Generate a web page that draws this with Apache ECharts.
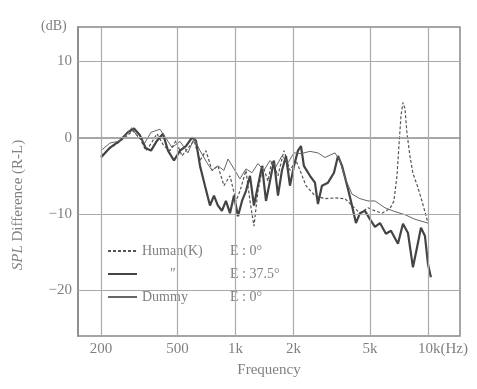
<!DOCTYPE html>
<html>
<head>
<meta charset="utf-8">
<title>SPL Difference (R-L)</title>
<script src="https://cdn.jsdelivr.net/npm/echarts@6/dist/echarts.min.js"></script>
<style>
  html, body { margin: 0; padding: 0; background: #fff; }
  #chart { width: 477px; height: 389px; }
</style>
</head>
<body>
<div id="chart"></div>
<script>
// frequency ticks (Hz) and their labels
var freqTicks = [200, 500, 1000, 2000, 5000, 10000];
var freqLabels = ['200', '500', '1k', '2k', '5k', '10k(Hz)'];
var dbTicks = [-20, -10, 0, 10];

// Human(K), E : 0deg  (dashed)
var humanFreq = [200, 223, 245, 269, 293, 319, 342, 364, 391, 425, 457, 491, 527, 566, 609, 654, 702, 755, 810, 871,
  936, 1006, 1055, 1133, 1189, 1247, 1308, 1389, 1474, 1546, 1662, 1785, 1918, 2061, 2188, 2322, 2586, 2915, 3286, 3703,
  4027, 4432, 4879, 5302, 5766, 6343, 6652, 6900, 7060, 7240, 7410, 7591, 7780, 8058, 8350, 8800, 9300, 10000];
var humanDb = [-2.4, -1.4, -0.7, 0.1, 0.9, -0.1, -1.7, -0.8, 0.5, -1.1, -1.7, -0.4, -2.4, -1.4, -0.4, -3.0, -1.7, -4.3, -3.7, -6.3,
  -5.0, -8.3, -7.0, -4.3, -8.3, -11.6, -7.0, -3.7, -5.7, -3.0, -5.0, -1.7, -4.3, -3.0, -4.6, -6.3, -7.6, -8.0, -7.9, -8.0,
  -8.9, -9.9, -9.2, -9.6, -9.9, -9.3, -8.3, -5.0, -1.1, 2.9, 4.6, 3.8, 0.5, -2.4, -4.7, -6.3, -8.3, -11.2];

// Human(K), E : 37.5deg  (thick)
var human37Freq = [200, 223, 251, 276, 297, 319, 342, 364, 391, 420, 446, 479, 515, 553, 594, 623, 654, 694, 737, 773,
  810, 850, 892, 936, 982, 1030, 1081, 1133, 1189, 1247, 1308, 1373, 1440, 1510, 1584, 1662, 1743, 1829, 1918, 2012,
  2111, 2188, 2266, 2436, 2586, 2680, 2812, 3023, 3247, 3407, 3575, 3838, 4027, 4223, 4432, 4704, 4994, 5302, 5629, 6044,
  6420, 6980, 7410, 7870, 8350, 8800, 9190, 9641, 10000, 10350];
var human37Db = [-2.6, -1.3, -0.4, 0.7, 1.2, 0.3, -1.4, -1.7, -0.4, 0.5, -1.7, -3.0, -1.7, -1.1, 0.0, -0.4, -3.7, -6.3, -8.9, -7.6,
  -8.9, -9.6, -8.3, -9.9, -7.6, -10.3, -8.3, -7.0, -5.0, -8.9, -6.3, -3.7, -8.3, -5.7, -3.0, -7.6, -4.3, -2.4, -6.3, -3.7,
  -1.7, -1.1, -3.7, -5.0, -5.9, -8.7, -6.3, -5.9, -4.6, -2.4, -3.7, -6.7, -8.9, -11.2, -9.9, -9.6, -10.7, -11.7, -11.2, -12.6,
  -12.2, -13.9, -11.3, -12.5, -17.0, -14.2, -11.8, -12.9, -16.6, -18.3];

// Dummy, E : 0deg  (thin)
var dummyFreq = [200, 223, 245, 266, 289, 311, 338, 364, 405, 436, 468, 515, 566, 609, 654, 711, 755, 810, 871, 914,
  982, 1055, 1133, 1218, 1308, 1405, 1510, 1622, 1743, 1873, 2012, 2188, 2436, 2680, 2915, 3286, 3489, 3703, 4027, 4432,
  4879, 5302, 5975, 6735, 7591, 8555, 10000];
var dummyDb = [-1.7, -0.7, -0.5, 0.1, 1.3, 0.1, -0.7, 0.7, 1.1, -0.1, -1.3, -0.5, -2.0, -0.1, -1.7, -3.3, -4.3, -3.7, -4.3, -2.8,
  -4.1, -5.4, -4.1, -4.6, -3.4, -4.3, -3.0, -3.8, -2.4, -3.3, -2.0, -2.1, -1.8, -2.0, -2.6, -2.0, -3.0, -5.3, -7.4, -8.0,
  -8.3, -8.3, -9.2, -9.7, -10.1, -10.7, -11.2];

function pairs(xs, ys) {
  return xs.map(function (x, i) { return [x, ys[i]]; });
}

var serif = '"Liberation Serif", "DejaVu Serif", serif';
var textGray = '#808080';

var myChart = echarts.init(document.getElementById('chart'));

var gridLines = freqTicks.map(function (f) { return { xAxis: f }; })
  .concat(dbTicks.map(function (d) { return { yAxis: d }; }));

var legendText = {
  'Human(K) E0': '{a|Human(K)}{b|E : 0°}',
  'Human(K) E37.5': '{c|″}{s|}{b|E : 37.5°}',
  'Dummy E0': '{a|Dummy}{b|E : 0°}'
};

var option = {
  backgroundColor: '#fff',
  animation: false,
  color: ['#555', '#555', '#444', '#666'],
  grid: {
    left: 78, right: 17, top: 27, bottom: 53,
    show: true, borderColor: '#888', borderWidth: 1.5
  },
  xAxis: {
    type: 'log',
    logBase: 10,
    min: 152,
    max: 14660,
    name: 'Frequency',
    nameLocation: 'middle',
    nameGap: 27,
    nameTextStyle: { fontFamily: serif, fontSize: 15, color: textGray },
    axisLine: { lineStyle: { color: '#888', width: 1.5 } },
    axisTick: { show: false },
    splitLine: { show: false },
    minorSplitLine: { show: false },
    axisLabel: {
      customValues: freqTicks,
      margin: 6,
      fontFamily: serif,
      fontSize: 15,
      color: textGray,
      formatter: function (v) {
        var i = freqTicks.indexOf(Math.round(v));
        if (i < 0) return '';
        if (i === freqTicks.length - 1) return '{s|}' + freqLabels[i];
        return freqLabels[i];
      },
      rich: { s: { width: 30 } }
    }
  },
  yAxis: {
    type: 'value',
    min: -26,
    max: 14.5,
    axisLine: { show: true, lineStyle: { color: '#888', width: 1.5 } },
    axisTick: { show: false },
    splitLine: { show: false },
    axisLabel: {
      customValues: dbTicks,
      margin: 6,
      fontFamily: serif,
      fontSize: 15,
      color: textGray,
      formatter: function (v) { return v < 0 ? '−' + Math.abs(v) : String(v); }
    }
  },
  legend: {
    data: ['Human(K) E0', 'Human(K) E37.5', 'Dummy E0'],
    orient: 'vertical',
    left: 103,
    top: 239,
    itemWidth: 29,
    itemHeight: 12,
    itemGap: 9,
    padding: [5, 60, 5, 4],
    backgroundColor: '#fff',
    itemStyle: { opacity: 0 },
    formatter: function (name) { return legendText[name]; },
    textStyle: {
      fontFamily: serif, fontSize: 14, color: textGray,
      rich: {
        a: { width: 88, fontFamily: serif, fontSize: 14, color: textGray },
        c: { width: 62, align: 'center', fontFamily: serif, fontSize: 14, color: textGray },
        s: { width: 26 },
        b: { fontFamily: serif, fontSize: 14, color: textGray }
      }
    }
  },
  graphic: [
    {
      type: 'text', left: 41, top: 19,
      style: { text: '(dB)', fontFamily: serif, fontSize: 14, fill: textGray }
    },
    {
      type: 'text',
      x: 18, y: 205,
      rotation: Math.PI / 2,
      style: {
        text: '{i|SPL} Difference (R-L)',
        align: 'center', verticalAlign: 'middle',
        fontFamily: serif, fontSize: 15, fill: textGray,
        rich: { i: { fontStyle: 'italic', fontFamily: serif, fontSize: 15, fill: textGray } }
      }
    }
  ],
  series: [
    {
      name: 'grid',
      type: 'line',
      data: [],
      z: 1,
      silent: true,
      markLine: {
        silent: true,
        symbol: 'none',
        label: { show: false },
        lineStyle: { color: '#aaa', width: 1.2, type: 'solid' },
        data: gridLines
      }
    },
    {
      name: 'Human(K) E0',
      type: 'line',
      data: pairs(humanFreq, humanDb),
      symbol: 'none',
      z: 3,
      lineStyle: { color: '#555', width: 1.2, type: [3, 2] }
    },
    {
      name: 'Human(K) E37.5',
      type: 'line',
      data: pairs(human37Freq, human37Db),
      symbol: 'none',
      z: 3,
      lineStyle: { color: '#444', width: 2.2 }
    },
    {
      name: 'Dummy E0',
      type: 'line',
      data: pairs(dummyFreq, dummyDb),
      symbol: 'none',
      z: 3,
      lineStyle: { color: '#666', width: 1 }
    }
  ]
};

myChart.setOption(option);
</script>
</body>
</html>
